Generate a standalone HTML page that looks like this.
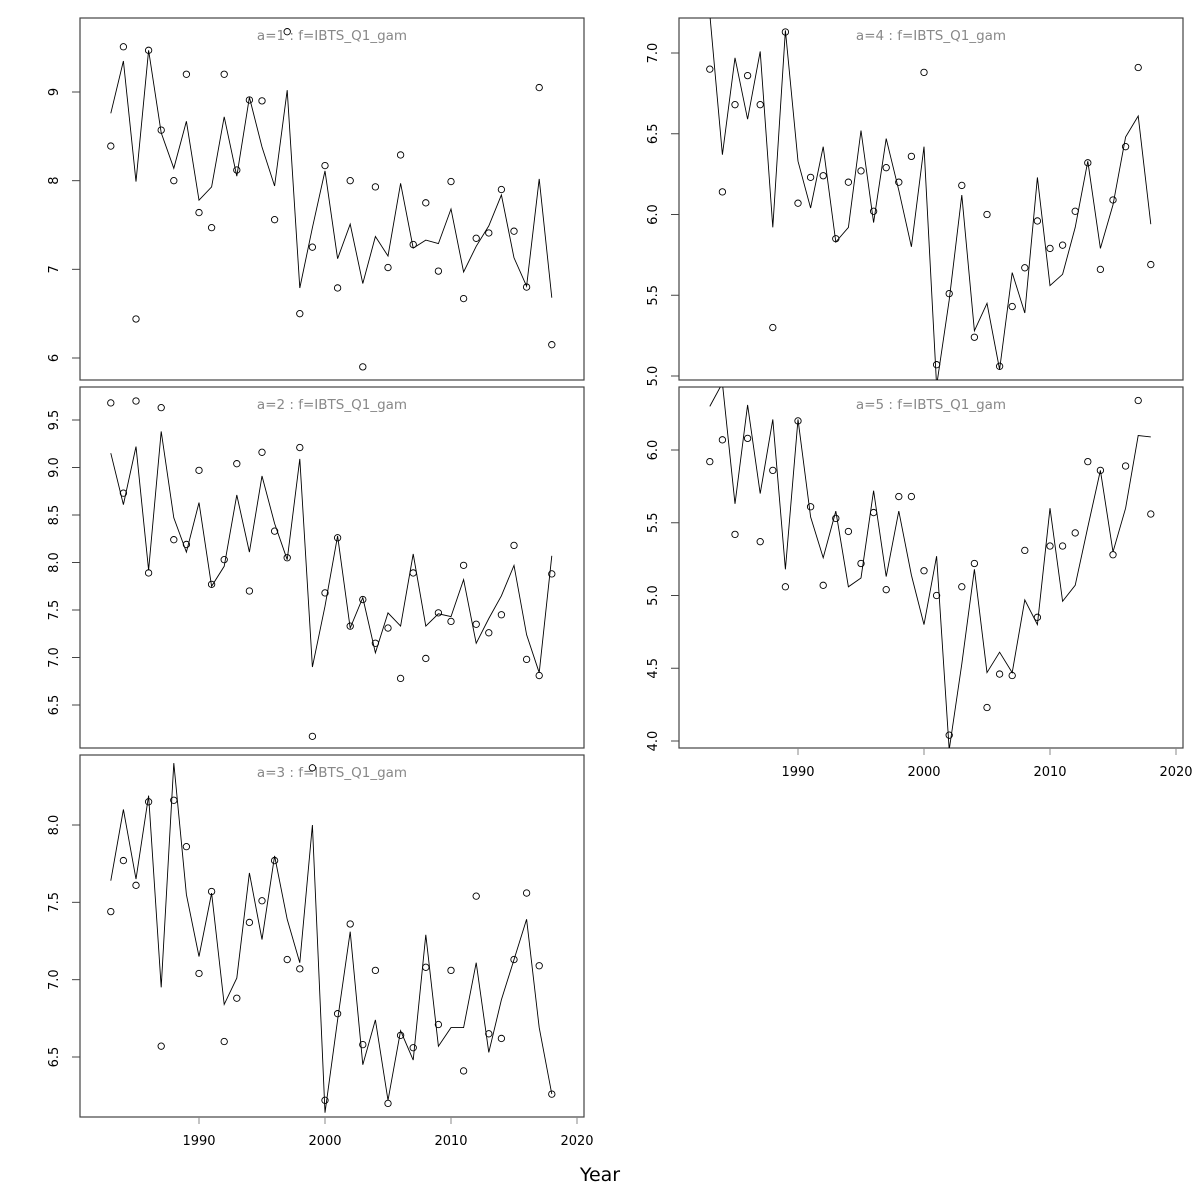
<!DOCTYPE html>
<html><head><meta charset="utf-8"><style>
html,body{margin:0;padding:0;background:#fff}
svg{display:block;font-family:"DejaVu Sans","Liberation Sans",sans-serif}
</style></head><body>
<svg id="chart" width="1200" height="1200" viewBox="0 0 1200 1200" xmlns="http://www.w3.org/2000/svg">
<rect width="1200" height="1200" fill="#fff"/>
<text x="600" y="1181" text-anchor="middle" font-size="19" fill="#000">Year</text>
</svg>
<script>
const years = [1983,1984,1985,1986,1987,1988,1989,1990,1991,1992,1993,1994,1995,1996,1997,1998,1999,2000,2001,2002,2003,2004,2005,2006,2007,2008,2009,2010,2011,2012,2013,2014,2015,2016,2017,2018];
const a1Obs = [8.39,9.51,6.44,9.47,8.57,8.0,9.2,7.64,7.47,9.2,8.12,8.91,8.90,7.56,9.68,6.5,7.25,8.17,6.79,8.0,5.9,7.93,7.02,8.29,7.28,7.75,6.98,7.99,6.67,7.35,7.41,7.9,7.43,6.80,9.05,6.15];
const a1Fit = [8.76,9.35,7.99,9.47,8.54,8.14,8.67,7.78,7.93,8.72,8.05,8.94,8.38,7.94,9.02,6.79,7.47,8.11,7.12,7.51,6.84,7.37,7.15,7.97,7.24,7.33,7.29,7.68,6.97,7.26,7.49,7.84,7.13,6.81,8.02,6.68];
const a2Obs = [9.68,8.73,9.70,7.89,9.63,8.24,8.19,8.97,7.77,8.03,9.04,7.70,9.16,8.33,8.05,9.21,6.17,7.68,8.26,7.33,7.61,7.15,7.31,6.78,7.89,6.99,7.47,7.38,7.97,7.35,7.26,7.45,8.18,6.98,6.81,7.88];
const a2Fit = [9.15,8.61,9.22,7.92,9.38,8.47,8.11,8.63,7.75,7.96,8.71,8.11,8.91,8.41,8.03,9.09,6.9,7.54,8.28,7.31,7.63,7.05,7.47,7.33,8.09,7.33,7.46,7.43,7.82,7.15,7.41,7.65,7.97,7.24,6.84,8.07];
const a3Obs = [7.44,7.77,7.61,8.15,6.57,8.16,7.86,7.04,7.57,6.60,6.88,7.37,7.51,7.77,7.13,7.07,8.37,6.22,6.78,7.36,6.58,7.06,6.20,6.64,6.56,7.08,6.71,7.06,6.41,7.54,6.65,6.62,7.13,7.56,7.09,6.26];
const a3Fit = [7.64,8.1,7.65,8.19,6.95,8.4,7.55,7.15,7.56,6.84,7.01,7.69,7.26,7.8,7.39,7.11,8.0,6.14,6.74,7.31,6.45,6.74,6.22,6.67,6.48,7.29,6.57,6.69,6.69,7.11,6.53,6.87,7.13,7.39,6.69,6.26];
const a4Obs = [6.9,6.14,6.68,6.86,6.68,5.30,7.13,6.07,6.23,6.24,5.85,6.2,6.27,6.02,6.29,6.2,6.36,6.88,5.07,5.51,6.18,5.24,6.0,5.06,5.43,5.67,5.96,5.79,5.81,6.02,6.32,5.66,6.09,6.42,6.91,5.69];
const a4Fit = [7.24,6.37,6.97,6.59,7.01,5.92,7.14,6.33,6.04,6.42,5.83,5.92,6.52,5.95,6.47,6.15,5.80,6.42,4.94,5.47,6.12,5.28,5.45,5.04,5.64,5.39,6.23,5.56,5.63,5.92,6.33,5.79,6.06,6.48,6.61,5.94];
const a5Obs = [5.92,6.07,5.42,6.08,5.37,5.86,5.06,6.2,5.61,5.07,5.53,5.44,5.22,5.57,5.04,5.68,5.68,5.17,5.0,4.04,5.06,5.22,4.23,4.46,4.45,5.31,4.85,5.34,5.34,5.43,5.92,5.86,5.28,5.89,6.34,5.56];
const a5Fit = [6.3,6.46,5.63,6.31,5.7,6.21,5.18,6.21,5.54,5.26,5.58,5.06,5.12,5.72,5.13,5.58,5.14,4.8,5.27,3.94,4.53,5.18,4.47,4.61,4.47,4.97,4.8,5.6,4.96,5.07,5.47,5.86,5.3,5.6,6.1,6.09];
const a1Ticks = [6,7,8,9];
const a2Ticks = [6.5,7.0,7.5,8.0,8.5,9.0,9.5];
const a3Ticks = [6.5,7.0,7.5,8.0];
const a4Ticks = [5.0,5.5,6.0,6.5,7.0];
const a5Ticks = [4.0,4.5,5.0,5.5,6.0];
const xTicks = [1990,2000,2010,2020];
const tickLabelFmt1 = v => String(v);
const tickLabelFmt2 = v => v.toFixed(1);

const NS = 'http://www.w3.org/2000/svg';
const svg = document.getElementById('chart');
function mk(tag, attrs, parent){
  const e = document.createElementNS(NS, tag);
  for (const k in attrs) e.setAttribute(k, attrs[k]);
  (parent||svg).appendChild(e);
  return e;
}
const panels = [
  {id:1, x0:80, x1:584, y0:18, y1:380, vA:9, pA:92, vB:6, pB:358, obs:a1Obs, fit:a1Fit, ticks:a1Ticks, fmt:tickLabelFmt1, xaxis:false},
  {id:2, x0:80, x1:584, y0:387, y1:748, vA:9.5, pA:420, vB:6.5, pB:705, obs:a2Obs, fit:a2Fit, ticks:a2Ticks, fmt:tickLabelFmt2, xaxis:false},
  {id:3, x0:80, x1:584, y0:755, y1:1117, vA:8.0, pA:825, vB:6.5, pB:1057, obs:a3Obs, fit:a3Fit, ticks:a3Ticks, fmt:tickLabelFmt2, xaxis:true},
  {id:4, x0:679, x1:1183, y0:18, y1:380, vA:7.0, pA:53, vB:5.0, pB:376, obs:a4Obs, fit:a4Fit, ticks:a4Ticks, fmt:tickLabelFmt2, xaxis:false},
  {id:5, x0:679, x1:1183, y0:387, y1:748, vA:6.0, pA:450, vB:4.0, pB:741, obs:a5Obs, fit:a5Fit, ticks:a5Ticks, fmt:tickLabelFmt2, xaxis:true}
];
panels.forEach(p => {
  const xs = yr => p.x0 + 30.8 + (yr - 1983) * 12.6;
  const ys = v => p.pA + (v - p.vA) * (p.pB - p.pA) / (p.vB - p.vA);
  const g = mk('g', {});
  
  
  const cp = mk('clipPath', {id:'clip' + p.id}, g);
  mk('rect', {x:p.x0, y:p.y0, width:p.x1-p.x0, height:p.y1-p.y0}, cp);
  const frame = mk('rect', {x:p.x0, y:p.y0, width:p.x1-p.x0, height:p.y1-p.y0, fill:'none', stroke:'#444', 'stroke-width':1.2}, g);
  
  
  const title = mk('text', {x:(p.x0+p.x1)/2, y:p.y0+22, 'text-anchor':'middle', 'font-size':13.5, fill:'#888'}, g);
  title.textContent = 'a=' + p.id + '  :  f=IBTS_Q1_gam';
  
  
  p.ticks.forEach(t => {
    const y = ys(t);
    const tk = mk('line', {x1:p.x0-8, x2:p.x0, y1:y, y2:y, stroke:'#444', 'stroke-width':1}, g);
    
    
    const lb = mk('text', {x:0, y:0, 'text-anchor':'middle', 'font-size':13, fill:'#000', transform:'translate(' + (p.x0-22) + ',' + y + ') rotate(-90)'}, g);
    lb.textContent = p.fmt(t);
    
    
  });
  if (p.xaxis) {
    xTicks.forEach(t => {
      const x = xs(t);
      const tk = mk('line', {x1:x, x2:x, y1:p.y1, y2:p.y1+7, stroke:'#888', 'stroke-width':1}, g);
      
      
      const lb = mk('text', {x:x, y:p.y1+28, 'text-anchor':'middle', 'font-size':13, fill:'#000'}, g);
      lb.textContent = t;
      
      
    });
  }
  const inner = mk('g', {'clip-path':'url(#clip' + p.id + ')'}, g);
  const d = p.fit.map((v,i) => (i ? 'L' : 'M') + xs(years[i]).toFixed(1) + ',' + ys(v).toFixed(1)).join(' ');
  const line = mk('path', {d:d, fill:'none', stroke:'#000', 'stroke-width':0.9}, inner);
  
  
  p.obs.forEach((v,i) => {
    const c = mk('circle', {cx:xs(years[i]), cy:ys(v), r:3.2, fill:'none', stroke:'#000', 'stroke-width':0.9}, inner);
    
    
  });
});
</script>
</body></html>
